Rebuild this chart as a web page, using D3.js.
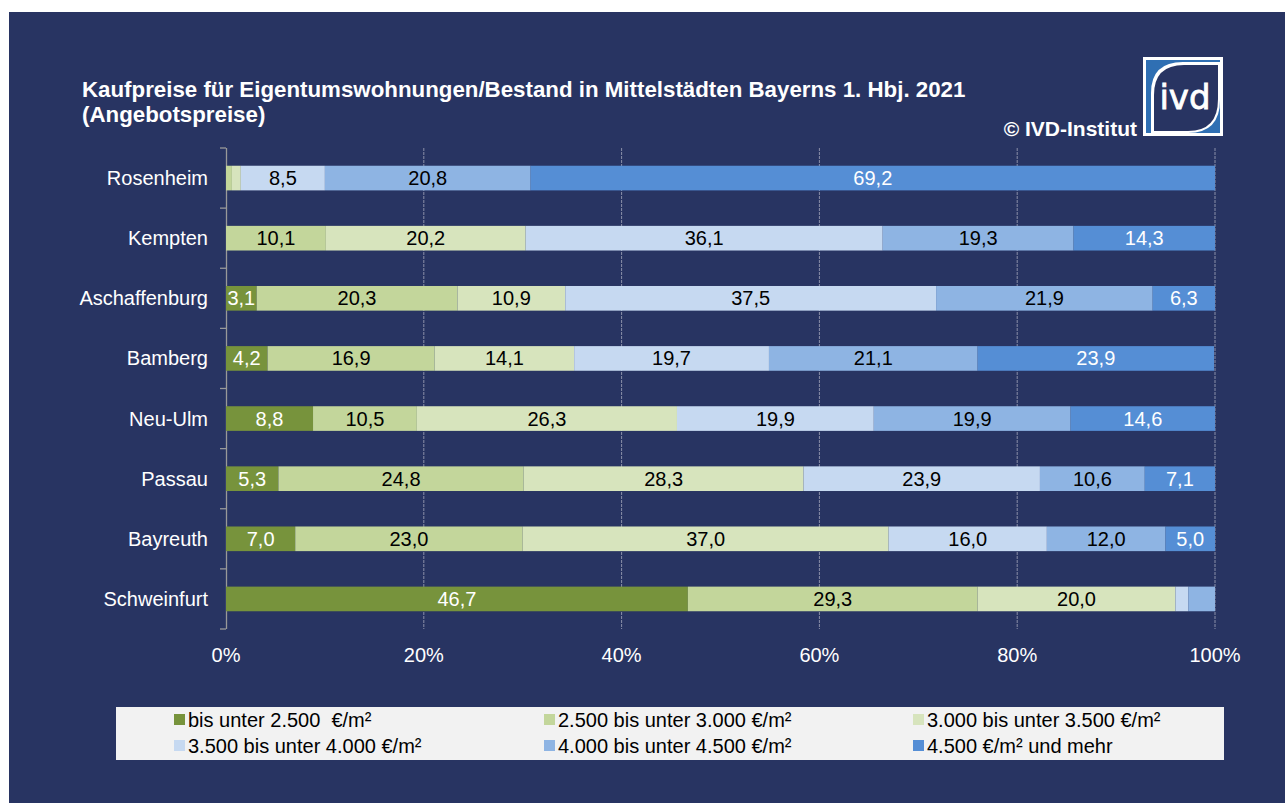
<!DOCTYPE html>
<html><head><meta charset="utf-8">
<script src="https://cdn.jsdelivr.net/npm/d3@7"></script>
<style>body{margin:0;background:#fff;}svg{display:block;font-family:"Liberation Sans",Arial,sans-serif;}</style>
</head><body><svg id="c" width="1285" height="803"></svg>
<script>
const cities = ["Rosenheim","Kempten","Aschaffenburg","Bamberg","Neu-Ulm","Passau","Bayreuth","Schweinfurt"];
const seriesNames = ["bis unter 2.500  €/m²","2.500 bis unter 3.000 €/m²","3.000 bis unter 3.500 €/m²","3.500 bis unter 4.000 €/m²","4.000 bis unter 4.500 €/m²","4.500 €/m² und mehr"];
const s1 = [0, 0, 3.1, 4.2, 8.8, 5.3, 7.0, 46.7];
const s2 = [0.6, 10.1, 20.3, 16.9, 10.5, 24.8, 23.0, 29.3];
const s3 = [0.9, 20.2, 10.9, 14.1, 26.3, 28.3, 37.0, 20.0];
const s4 = [8.5, 36.1, 37.5, 19.7, 19.9, 23.9, 16.0, 1.3];
const s5 = [20.8, 19.3, 21.9, 21.1, 19.9, 10.6, 12.0, 2.7];
const s6 = [69.2, 14.3, 6.3, 23.9, 14.6, 7.1, 5.0, 0];
const xTicks = [0, 20, 40, 60, 80, 100];
const colors = ["#77933c","#c3d69b","#d7e4bd","#c6d9f1","#8eb4e3","#558ed5"];
const labelColors = ["#fff","#000","#000","#000","#000","#fff"];

const series = [s1,s2,s3,s4,s5,s6];
const rows = cities.map((c,i)=>{const o={city:c}; series.forEach((s,j)=>o["k"+j]=s[i]); return o;});
const keys = series.map((_,j)=>"k"+j);
const stack = d3.stack().keys(keys)(rows);

const svg = d3.select("#c");
const navy = "#283462";
const FS = 20;
svg.append("rect").attr("x",9).attr("y",12).attr("width",1276).attr("height",791).attr("fill",navy);

// title
const t = svg.append("text").attr("fill","#fff").attr("font-weight","bold").attr("font-size",22.3);
t.append("tspan").attr("x",82).attr("y",97).text("Kaufpreise für Eigentumswohnungen/Bestand in Mittelstädten Bayerns 1. Hbj. 2021");
t.append("tspan").attr("x",82).attr("y",122).text("(Angebotspreise)");
svg.append("text").attr("x",1137).attr("y",136).attr("text-anchor","end").attr("fill","#fff")
  .attr("font-weight","bold").attr("font-size",21).text("© IVD-Institut");

// logo
const lg = svg.append("g").attr("transform","translate(1143,57)");
lg.append("rect").attr("width",80).attr("height",79).attr("fill","#fff");
lg.append("rect").attr("x",3).attr("y",3).attr("width",74).attr("height",73).attr("fill","#2f6fb3");
lg.append("path").attr("d","M8,76 V36 Q8,5 40,5 H77 V43 Q77,76 45,76 Z").attr("fill","#fff");
lg.append("path").attr("d","M11,74 V38 Q11,8 41,8 H75 V42 Q75,74 45,74 Z").attr("fill",navy);
lg.append("text").attr("x",42).attr("y",52).attr("text-anchor","middle").attr("fill","#fff")
  .attr("stroke","#fff").attr("stroke-width",0.8)
  .attr("font-family","DejaVu Sans, sans-serif").attr("font-size",34).text("ivd");

// scales
const x = d3.scaleLinear().domain([0,100]).range([226,1215]);
const y = d3.scaleBand().domain(cities).range([148,629]).paddingInner(0.59).paddingOuter(0.295);
const bandStep = y.step();

// gridlines
svg.append("g").selectAll("line").data(xTicks.filter(d=>d>0)).join("line")
  .attr("x1",d=>x(d)).attr("x2",d=>x(d)).attr("y1",148).attr("y2",629)
  .attr("stroke","#8a8fa8").attr("stroke-width",1).attr("stroke-dasharray","3,1");

// y axis line and ticks
svg.append("line").attr("x1",226.5).attr("x2",226.5).attr("y1",148).attr("y2",629).attr("stroke","#999").attr("stroke-width",1.3);
const bounds = d3.range(cities.length+1).map(i=>148+i*bandStep);
svg.append("g").selectAll("line").data(bounds).join("line")
  .attr("x1",220).attr("x2",226).attr("y1",d=>d).attr("y2",d=>d).attr("stroke","#999").attr("stroke-width",1.3);

// bars
const g = svg.append("g");
stack.forEach((layer,j)=>{
  g.append("g").selectAll("rect").data(layer).join("rect")
    .attr("x",d=>x(d[0])).attr("width",d=>x(d[1])-x(d[0]))
    .attr("y",d=>y(d.data.city)).attr("height",y.bandwidth())
    .attr("fill",colors[j]);
  g.append("g").selectAll("text").data(layer.filter(d=>d[1]-d[0]>=3)).join("text")
    .attr("x",d=>(x(d[0])+x(d[1]))/2).attr("y",d=>y(d.data.city)+y.bandwidth()/2+7)
    .attr("text-anchor","middle").attr("font-size",FS).attr("fill",labelColors[j])
    .text(d=>d3.format(".1f")(d[1]-d[0]).replace(".",","));
});

// category labels
svg.append("g").selectAll("text").data(cities).join("text")
  .attr("x",208).attr("y",d=>y(d)+y.bandwidth()/2+7).attr("text-anchor","end")
  .attr("fill","#fff").attr("font-size",FS).text(d=>d);

// x tick labels
svg.append("g").selectAll("text").data(xTicks).join("text")
  .attr("x",d=>x(d)).attr("y",662).attr("text-anchor","middle")
  .attr("fill","#fff").attr("font-size",FS).text(d=>d+"%");

// legend
svg.append("rect").attr("x",116).attr("y",707).attr("width",1108).attr("height",53).attr("fill","#f2f2f2");
const legX = [174, 544, 913], legY = [720, 746];
seriesNames.forEach((n,i)=>{
  const lx = legX[i%3], ly = legY[Math.floor(i/3)];
  svg.append("rect").attr("x",lx).attr("y",ly-6).attr("width",11).attr("height",11).attr("fill",colors[i]);
  svg.append("text").attr("x",lx+14).attr("y",ly+7).attr("font-size",FS).attr("fill","#000")
    .style("white-space","pre").text(n);
});
</script></body></html>
